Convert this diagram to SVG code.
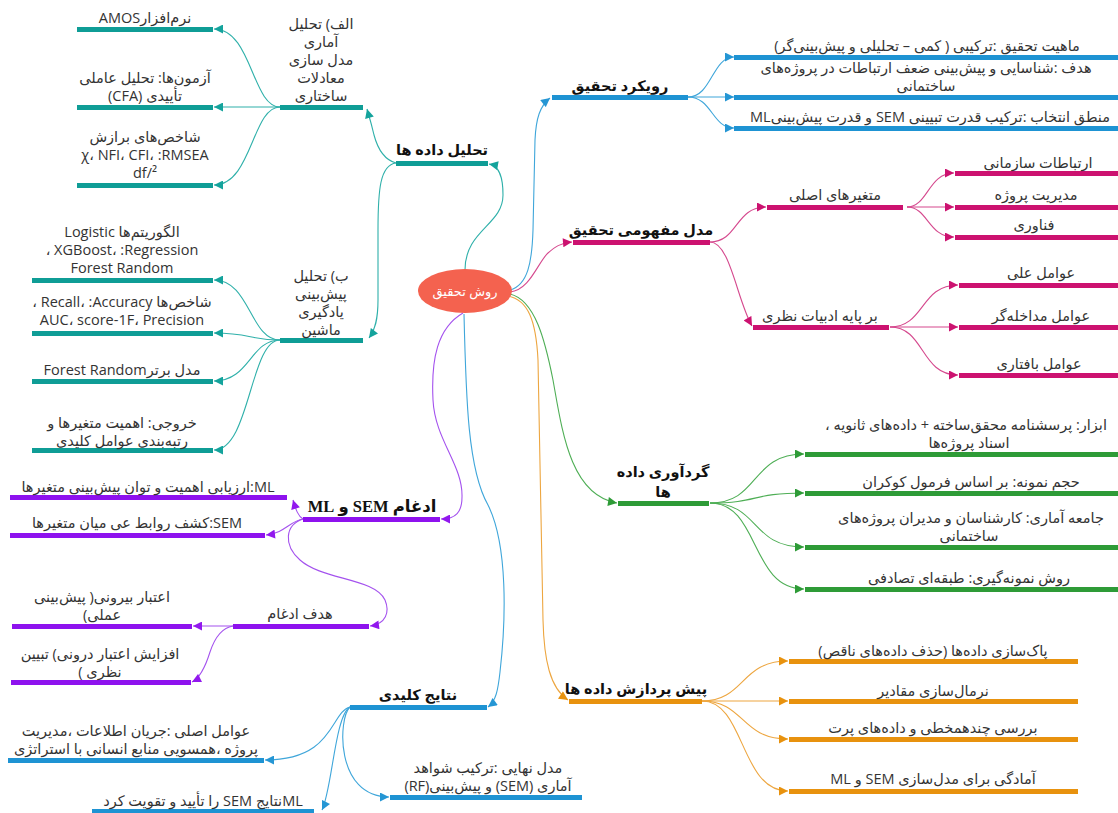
<svg xmlns="http://www.w3.org/2000/svg" width="1118" height="813" viewBox="0 0 1118 813">
<style>
text{font-family:"Open Sans","DejaVu Sans",sans-serif;font-size:14.5px;fill:#333;text-anchor:middle}
.r{direction:rtl}
.l{direction:ltr}
.b{font-weight:bold;fill:#111;font-size:14.5px}
.s{font-family:"Liberation Serif","DejaVu Sans",serif;font-size:16.5px}
.c{fill:none;stroke-width:1.1}
.teal{stroke:#2FB0AA}.tealf{fill:#0F9D96}
.pur{stroke:#A452EE}.purf{fill:#8E12EE}
.blu{stroke:#3FA6DA}.bluf{fill:#1E93D3}
.pnk{stroke:#D5498E}.pnkf{fill:#CC1270}
.grn{stroke:#4EAE55}.grnf{fill:#2E9B37}
.org{stroke:#EDA640}.orgf{fill:#E8920E}
</style>
<defs>
<marker id="mt" viewBox="0 0 10 10" refX="10" refY="5" markerWidth="10" markerHeight="9" orient="auto" markerUnits="userSpaceOnUse"><path d="M0,0L10,5L0,10z" fill="#14A39C"/></marker>
<marker id="mp" viewBox="0 0 10 10" refX="10" refY="5" markerWidth="10" markerHeight="9" orient="auto" markerUnits="userSpaceOnUse"><path d="M0,0L10,5L0,10z" fill="#9218EE"/></marker>
<marker id="mb" viewBox="0 0 10 10" refX="10" refY="5" markerWidth="10" markerHeight="9" orient="auto" markerUnits="userSpaceOnUse"><path d="M0,0L10,5L0,10z" fill="#2596D4"/></marker>
<marker id="mk" viewBox="0 0 10 10" refX="10" refY="5" markerWidth="10" markerHeight="9" orient="auto" markerUnits="userSpaceOnUse"><path d="M0,0L10,5L0,10z" fill="#CC1270"/></marker>
<marker id="mg" viewBox="0 0 10 10" refX="10" refY="5" markerWidth="10" markerHeight="9" orient="auto" markerUnits="userSpaceOnUse"><path d="M0,0L10,5L0,10z" fill="#2E9B37"/></marker>
<marker id="mo" viewBox="0 0 10 10" refX="10" refY="5" markerWidth="10" markerHeight="9" orient="auto" markerUnits="userSpaceOnUse"><path d="M0,0L10,5L0,10z" fill="#E8920E"/></marker>
</defs>
<rect width="1118" height="813" fill="#fff"/>

<g id="connectors">
<!-- teal -->
<path class="c teal" marker-end="url(#mt)" d="M465,270 C465,230 503,225 503,195 C503,178 500,166 489,164"/>
<path class="c teal" marker-end="url(#mt)" d="M396,163 C385,160 378,150 374,135 C371,122 369,116 367,109"/>
<path class="c teal" marker-end="url(#mt)" d="M396,163 C380,165 378,190 378,230 L378,300 C378,320 375,330 369,338"/>
<path class="c teal" marker-end="url(#mt)" d="M280,107 C252,107 252,29 214,29"/>
<path class="c teal" marker-end="url(#mt)" d="M280,107 L214,107"/>
<path class="c teal" marker-end="url(#mt)" d="M280,107 C252,107 252,185 214,185"/>
<path class="c teal" marker-end="url(#mt)" d="M280,340 C250,340 250,280 214,280"/>
<path class="c teal" marker-end="url(#mt)" d="M280,340 C250,340 250,333 214,333"/>
<path class="c teal" marker-end="url(#mt)" d="M280,340 C250,340 250,381 214,381"/>
<path class="c teal" marker-end="url(#mt)" d="M280,340 C250,340 250,450 214,450"/>
<!-- purple -->
<path class="c pur" marker-end="url(#mp)" d="M463,313 C437,328 431,360 433,400 C435,440 463,465 462,497 C462,512 456,519 441,519"/>
<path class="c pur" marker-end="url(#mp)" d="M303,519 C298,516 296,510 293,500"/>
<path class="c pur" marker-end="url(#mp)" d="M303,519 C290,521 285,533 266,535"/>
<path class="c pur" marker-end="url(#mp)" d="M303,519 C285,525 283,545 300,560 C322,580 375,578 385,600 C390,612 386,624 370,626"/>
<path class="c pur" marker-end="url(#mp)" d="M233,626 L193,626"/>
<path class="c pur" marker-end="url(#mp)" d="M233,626 C220,628 214,640 210,652 C205,668 200,678 192,682"/>
<!-- blue -->
<path class="c blu" marker-end="url(#mb)" d="M510,290 C528,285 532,262 533,230 L535,140 C536,118 540,106 550,98"/>
<path class="c blu" marker-end="url(#mb)" d="M688,97 C712,97 712,57 734,57"/>
<path class="c blu" marker-end="url(#mb)" d="M688,97 L734,97"/>
<path class="c blu" marker-end="url(#mb)" d="M688,97 C712,97 712,128 734,128"/>
<path class="c blu" marker-end="url(#mb)" d="M464,314 C466,400 468,470 488,505 C508,545 506,620 500,672 C498,690 496,701 488,707"/>
<path class="c blu" marker-end="url(#mb)" d="M350,707 C330,712 335,760 265,760"/>
<path class="c blu" marker-end="url(#mb)" d="M350,707 C335,715 332,790 322,810"/>
<path class="c blu" marker-end="url(#mb)" d="M350,707 C338,718 335,797 389,797"/>
<!-- pink -->
<path class="c pnk" marker-end="url(#mk)" d="M510,292 C530,290 538,262 548,253 C555,247 560,243 572,242"/>
<path class="c pnk" marker-end="url(#mk)" d="M710,242 C738,242 735,207 766,207"/>
<path class="c pnk" marker-end="url(#mk)" d="M710,242 C730,242 737,300 752,326"/>
<path class="c pnk" marker-end="url(#mk)" d="M907,207 C928,207 928,173 954,173"/>
<path class="c pnk" marker-end="url(#mk)" d="M907,207 L954,207"/>
<path class="c pnk" marker-end="url(#mk)" d="M907,207 C928,207 928,237 954,237"/>
<path class="c pnk" marker-end="url(#mk)" d="M890,327 C925,327 920,285 958,285"/>
<path class="c pnk" marker-end="url(#mk)" d="M890,327 L958,327"/>
<path class="c pnk" marker-end="url(#mk)" d="M890,327 C925,327 920,375 958,375"/>
<!-- green -->
<path class="c grn" marker-end="url(#mg)" d="M510,294 C535,300 545,340 553,380 C562,430 570,495 617,503"/>
<path class="c grn" marker-end="url(#mg)" d="M710,503 C760,503 750,454 804,454"/>
<path class="c grn" marker-end="url(#mg)" d="M710,503 C760,503 750,493 804,493"/>
<path class="c grn" marker-end="url(#mg)" d="M710,503 C760,503 750,547 804,547"/>
<path class="c grn" marker-end="url(#mg)" d="M710,503 C760,503 750,589 804,589"/>
<!-- orange -->
<path class="c org" marker-end="url(#mo)" d="M508,296 C528,300 536,320 538,360 L543,620 C544,660 550,688 568,700"/>
<path class="c org" marker-end="url(#mo)" d="M702,701 C745,701 740,661 788,661"/>
<path class="c org" marker-end="url(#mo)" d="M702,701 L788,701"/>
<path class="c org" marker-end="url(#mo)" d="M702,701 C745,701 740,739 788,739"/>
<path class="c org" marker-end="url(#mo)" d="M702,701 C745,701 740,791 788,791"/>
</g>

<g id="center">
<ellipse cx="465" cy="291" rx="47" ry="22" fill="#F4624F"/>
<text class="r" x="465" y="296" style="fill:#fff;font-size:13px">روش تحقیق</text>
</g>

<!-- teal nodes -->
<g id="n-tahlil"><rect class="tealf" x="396" y="161" width="92" height="5"/><text class="r b" x="442" y="155">تحلیل داده ها</text></g>
<g id="n-alef"><rect class="tealf" x="280" y="105" width="83" height="5"/>
<text class="r" x="321" y="29">الف) تحلیل</text><text class="r" x="321" y="47">آماری</text><text class="r" x="321" y="65">مدل سازی</text><text class="r" x="321" y="83">معادلات</text><text class="r" x="321" y="101">ساختاری</text></g>
<g id="n-amos"><rect class="tealf" x="77" y="27" width="136" height="5"/><text class="r" x="145" y="23">نرم‌افزارAMOS</text></g>
<g id="n-cfa"><rect class="tealf" x="77" y="105" width="136" height="5"/><text class="r" x="145" y="83">آزمون‌ها: تحلیل عاملی</text><text class="r" x="145" y="101">تأییدی (CFA)</text></g>
<g id="n-fit"><rect class="tealf" x="77" y="183" width="136" height="5"/><text class="r" x="145" y="142">شاخص‌های برازش</text><text class="l" x="145" y="160">χ، NFI، CFI، :RMSEA</text><text class="l" x="145" y="178">df/²</text></g>
<g id="n-be"><rect class="tealf" x="280" y="338" width="83" height="5"/>
<text class="r" x="321" y="281">ب) تحلیل</text><text class="r" x="321" y="299">پیش‌بینی</text><text class="r" x="321" y="317">یادگیری</text><text class="r" x="321" y="335">ماشین</text></g>
<g id="n-algo"><rect class="tealf" x="32" y="278" width="181" height="5"/><text class="r" x="122" y="237">الگوریتم‌ها Logistic</text><text class="l" x="122" y="255">، XGBoost، :Regression</text><text class="l" x="122" y="273">Forest Random</text></g>
<g id="n-metric"><rect class="tealf" x="32" y="331" width="181" height="5"/><text class="l" x="122" y="307">، Recall، :Accuracy شاخص‌ها</text><text class="l" x="122" y="325">AUC، score-1F، Precision</text></g>
<g id="n-best"><rect class="tealf" x="32" y="379" width="181" height="5"/><text class="r" x="122" y="375">مدل برترForest Random</text></g>
<g id="n-out"><rect class="tealf" x="32" y="448" width="181" height="5"/><text class="r" x="122" y="428">خروجی: اهمیت متغیرها و</text><text class="r" x="122" y="446">رتبه‌بندی عوامل کلیدی</text></g>

<!-- purple nodes -->
<g id="n-edgham"><rect class="purf" x="303" y="517" width="137" height="5"/><text class="r b s" x="372" y="512">ادغام SEM و ML</text></g>
<g id="n-ml"><rect class="purf" x="10" y="495" width="277" height="5"/><text class="r" x="148" y="492">ML:ارزیابی اهمیت و توان پیش‌بینی متغیرها</text></g>
<g id="n-sem"><rect class="purf" x="10" y="533" width="255" height="5"/><text class="r" x="137" y="528">SEM:کشف روابط عی میان متغیرها</text></g>
<g id="n-hadaf"><rect class="purf" x="233" y="624" width="136" height="5"/><text class="r" x="300" y="619">هدف ادغام</text></g>
<g id="n-ext"><rect class="purf" x="12" y="624" width="180" height="5"/><text class="r" x="102" y="602">اعتبار بیرونی( پیش‌بینی</text><text class="r" x="102" y="620">عملی)</text></g>
<g id="n-int"><rect class="purf" x="11" y="680" width="180" height="5"/><text class="r" x="100" y="659">افزایش اعتبار درونی) تبیین</text><text class="r" x="100" y="677">نظری )</text></g>

<!-- blue nodes -->
<g id="n-rooykard"><rect class="bluf" x="552" y="95" width="136" height="5"/><text class="r b" x="620" y="91">رویکرد تحقیق</text></g>
<g id="n-mahiat"><rect class="bluf" x="734" y="55" width="384" height="5"/><text class="r" x="927" y="51">ماهیت تحقیق :ترکیبی ( کمی – تحلیلی و پیش‌بینی‌گر)</text></g>
<g id="n-hadaf2"><rect class="bluf" x="734" y="95" width="384" height="5"/><text class="r" x="926" y="73">هدف :شناسایی و پیش‌بینی ضعف ارتباطات در پروژه‌های</text><text class="r" x="926" y="91">ساختمانی</text></g>
<g id="n-mantegh"><rect class="bluf" x="734" y="126" width="384" height="5"/><text class="r" x="930" y="122">منطق انتخاب :ترکیب قدرت تبیینی SEM و قدرت پیش‌بینیML</text></g>
<g id="n-natayej"><rect class="bluf" x="350" y="705" width="137" height="5"/><text class="r b" x="418" y="700">نتایج کلیدی</text></g>
<g id="n-avamel"><rect class="bluf" x="8" y="758" width="256" height="5"/><text class="r" x="136" y="736">عوامل اصلی :جریان اطلاعات ،مدیریت</text><text class="r" x="136" y="754">پروژه ،همسویی منابع انسانی با استراتژی</text></g>
<g id="n-final"><rect class="bluf" x="390" y="795" width="192" height="5"/><text class="r" x="488" y="773">مدل نهایی :ترکیب شواهد</text><text class="r" x="488" y="791">آماری (SEM) و پیش‌بینی(RF)</text></g>
<g id="n-confirm"><rect class="bluf" x="92" y="809" width="222" height="5"/><text class="r" x="203" y="806">MLنتایج SEM را تأیید و تقویت کرد</text></g>

<!-- pink nodes -->
<g id="n-model"><rect class="pnkf" x="573" y="240" width="137" height="5"/><text class="r b" x="641" y="235">مدل مفهومی تحقیق</text></g>
<g id="n-motaghayer"><rect class="pnkf" x="767" y="205" width="136" height="5"/><text class="r" x="835" y="200">متغیرهای اصلی</text></g>
<g id="n-adabiat"><rect class="pnkf" x="753" y="325" width="136" height="5"/><text class="r" x="820" y="321">بر پایه ادبیات نظری</text></g>
<g id="n-ertebatat"><rect class="pnkf" x="955" y="171" width="163" height="5"/><text class="r" x="1038" y="168">ارتباطات سازمانی</text></g>
<g id="n-modiriat"><rect class="pnkf" x="955" y="205" width="163" height="5"/><text class="r" x="1036" y="200">مدیریت پروژه</text></g>
<g id="n-fanavari"><rect class="pnkf" x="955" y="235" width="163" height="5"/><text class="r" x="1034" y="230">فناوری</text></g>
<g id="n-elli"><rect class="pnkf" x="959" y="283" width="159" height="5"/><text class="r" x="1041" y="278">عوامل علی</text></g>
<g id="n-modakhele"><rect class="pnkf" x="959" y="325" width="159" height="5"/><text class="r" x="1041" y="321">عوامل مداخله‌گر</text></g>
<g id="n-baftari"><rect class="pnkf" x="959" y="373" width="159" height="5"/><text class="r" x="1039" y="369">عوامل بافتاری</text></g>

<!-- green nodes -->
<g id="n-gardavari"><rect class="grnf" x="618" y="501" width="91" height="5"/><text class="r b" x="663" y="477">گردآوری داده</text><text class="r b" x="663" y="497">ها</text></g>
<g id="n-abzar"><rect class="grnf" x="805" y="452" width="313" height="5"/><text class="r" x="966" y="430">ابزار: پرسشنامه محقق‌ساخته + داده‌های ثانویه ،</text><text class="r" x="969" y="448">اسناد پروژه‌ها</text></g>
<g id="n-hajm"><rect class="grnf" x="805" y="491" width="313" height="5"/><text class="r" x="971" y="487">حجم نمونه: بر اساس فرمول کوکران</text></g>
<g id="n-jameh"><rect class="grnf" x="805" y="545" width="313" height="5"/><text class="r" x="971" y="523">جامعه آماری: کارشناسان و مدیران پروژه‌های</text><text class="r" x="969" y="541">ساختمانی</text></g>
<g id="n-ravesh"><rect class="grnf" x="805" y="587" width="313" height="5"/><text class="r" x="969" y="583">روش نمونه‌گیری: طبقه‌ای تصادفی</text></g>

<!-- orange nodes -->
<g id="n-pish"><rect class="orgf" x="569" y="699" width="133" height="5"/><text class="r b" x="636" y="694">پیش پردازش داده ها</text></g>
<g id="n-pak"><rect class="orgf" x="789" y="659" width="289" height="5"/><text class="r" x="933" y="656">پاک‌سازی داده‌ها (حذف داده‌های ناقص)</text></g>
<g id="n-normal"><rect class="orgf" x="789" y="699" width="289" height="5"/><text class="r" x="933" y="696">نرمال‌سازی مقادیر</text></g>
<g id="n-baresi"><rect class="orgf" x="789" y="737" width="289" height="5"/><text class="r" x="933" y="733">بررسی چندهمخطی و داده‌های پرت</text></g>
<g id="n-amadegi"><rect class="orgf" x="789" y="789" width="289" height="5"/><text class="r" x="933" y="784">آمادگی برای مدل‌سازی SEM و ML</text></g>
</svg>
